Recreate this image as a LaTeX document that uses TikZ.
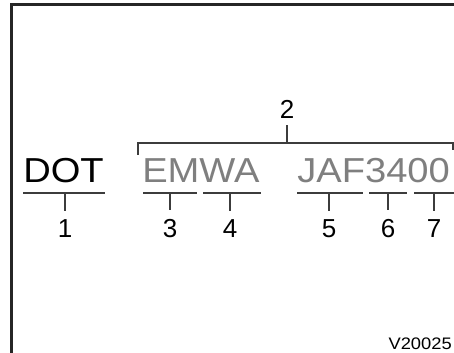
\documentclass[tikz,border=0pt]{standalone}
\usepackage{fontspec}
\setmainfont{Liberation Sans}
\definecolor{codegray}{HTML}{7F7F7F}
\definecolor{linegray}{HTML}{3C3C3C}
\begin{document}
\begin{tikzpicture}[x=0.75pt,y=-0.75pt,
    code/.style={font=\fontsize{26}{26}\selectfont\addfontfeatures{FakeStretch=1.1},
        inner sep=0pt, anchor=base west},
    num/.style={font=\fontsize{19.5}{19.5}\selectfont, inner sep=0pt, anchor=base},
    uline/.style={line width=1.5pt, linegray},
    drop/.style={line width=1.5pt, linegray, shorten >=7pt}]

    \useasboundingbox (0,0) rectangle (454,353);
    \clip (0,0) rectangle (454,353);

    % frame
    \draw[line width=1.6pt, black!85] (11.5,353) -- (11.5,4.5) -- (454,4.5);

    % code on the tyre
    \node[code] (dot) at (23,182) {DOT};
    \node[code, codegray] (emwa) at (142,182) {EMWA};
    \node[code, codegray] (jaf) at (297,182) {JAF3400};

    % numbers
    \node[num] (n1) at (65,238) {1};
    \node[num] (n2) at (287,118) {2};
    \node[num] (n3) at (170,238) {3};
    \node[num] (n4) at (230,238) {4};
    \node[num] (n5) at (329,238) {5};
    \node[num] (n6) at (388,238) {6};
    \node[num] (n7) at (434,238) {7};

    % underlines
    \draw[uline] (23,193) -- (105,193);
    \draw[uline] (143,193) -- (197,193);
    \draw[uline] (203,193) -- (261,193);
    \draw[uline] (297,193) -- (363,193);
    \draw[uline] (369,193) -- (407,193);
    \draw[uline] (414,193) -- (456,193);

    % ticks down to the numbers
    \draw[drop] (65,193) -- (n1.north);
    \draw[drop] (170,193) -- (n3.north);
    \draw[drop] (230,193) -- (n4.north);
    \draw[drop] (329,193) -- (n5.north);
    \draw[drop] (388,193) -- (n6.north);
    \draw[drop] (434,193) -- (n7.north);

    % bracket over the second part
    \draw[uline] (138,155) -- (138,143) -- (453,143) -- (453,150);
    \draw[uline, shorten >=5pt] (287,143) -- (n2.south);

    \node[font=\fontsize{12.5}{12.5}\selectfont\addfontfeatures{FakeStretch=1.1},
        inner sep=0pt, anchor=base east] (ref) at (452,349) {V20025};

\end{tikzpicture}
\end{document}
